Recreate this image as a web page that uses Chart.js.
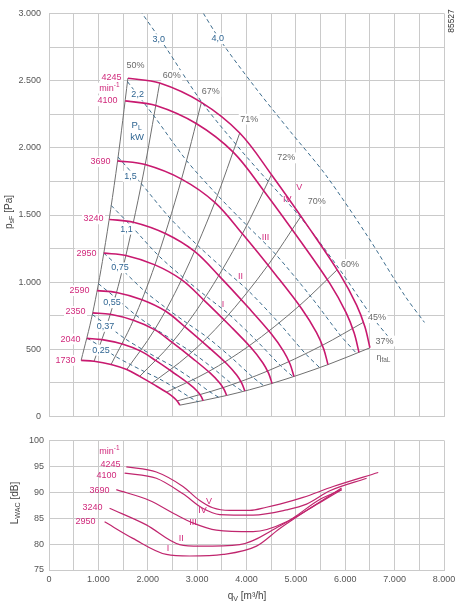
<!DOCTYPE html>
<html>
<head>
<meta charset="utf-8">
<script src="https://cdn.jsdelivr.net/npm/chart.js@4.4.0/dist/chart.umd.min.js"></script>
<style>
  body { margin: 0; background: #fff; }
  #wrap { position: relative; width: 465px; height: 606px; }
  canvas { position: absolute; left: 0; }
</style>
</head>
<body>
<div id="wrap">
  <canvas id="kennlinie" width="465" height="430" style="top:0"></canvas>
  <canvas id="schall" width="465" height="176" style="top:430px"></canvas>
</div>
<script>
// tick labels
const qTicks = ['0', '1.000', '2.000', '3.000', '4.000', '5.000', '6.000', '7.000', '8.000'];
const pTicks = ['0', '500', '1.000', '1.500', '2.000', '2.500', '3.000'];
const lwTicks = ['75', '80', '85', '90', '95', '100'];

// speed curves [qV m3/h, psF Pa]
const speeds = ['4245', '4100', '3690', '3240', '2950', '2590', '2350', '2040', '1730'];
const n4245 = [[1598,2518],[2241,2482],[3087,2338],[3863,2110],[4506,1800],[5283,1395],[5891,1060],[6230,830],[6398,668],[6500,512]];
const n4100 = [[1543,2349],[2164,2315],[2981,2181],[3731,1968],[4352,1679],[5102,1301],[5690,989],[6017,774],[6179,623],[6278,478]];
const n3690 = [[1389,1903],[1948,1875],[2684,1767],[3358,1594],[3917,1360],[4593,1054],[5121,801],[5416,627],[5562,505],[5650,387]];
const n3240 = [[1220,1467],[1711,1446],[2356,1362],[2949,1229],[3439,1049],[4033,813],[4497,618],[4755,484],[4884,389],[4961,298]];
const n2950 = [[1110,1216],[1557,1199],[2145,1129],[2684,1019],[3131,869],[3671,674],[4094,512],[4329,401],[4446,323],[4517,247]];
const n2590 = [[975,937],[1367,924],[1883,870],[2357,786],[2749,670],[3223,519],[3594,395],[3801,309],[3903,249],[3966,191]];
const n2350 = [[885,772],[1241,761],[1709,717],[2139,647],[2495,552],[2925,428],[3261,325],[3449,254],[3542,205],[3598,157]];
const n2040 = [[768,582],[1077,573],[1484,540],[1857,487],[2166,416],[2539,322],[2831,245],[2994,192],[3075,154],[3124,118]];
const n1730 = [[651,418],[913,412],[1258,388],[1574,350],[1836,299],[2153,232],[2401,176],[2539,138],[2607,111],[2649,85]];

// efficiency lines eta_faL
const effNames = ['50%', '60%', '67%', '71%', '72%', '70%', '60%', '45%', '37%'];
const eta50 = [[651,418],[885,772],[1110,1216],[1389,1903],[1598,2518]];
const eta60a = [[913,412],[1241,761],[1557,1199],[1948,1875],[2241,2482]];
const eta67 = [[1258,388],[1709,717],[2145,1129],[2684,1767],[3087,2338]];
const eta71 = [[1574,350],[2139,647],[2684,1019],[3358,1594],[3863,2110]];
const eta72 = [[1836,299],[2495,552],[3131,869],[3917,1360],[4506,1800]];
const eta70 = [[2079,247],[2824,457],[3545,720],[4434,1126],[5101,1490]];
const eta60b = [[2376,181],[3227,334],[4051,526],[5068,824],[5830,1090]];
const eta45 = [[2592,116],[3521,215],[4420,338],[5529,529],[6360,700]];
const eta37 = [[2649,85],[3598,157],[4517,247],[5650,387],[6500,512]];

// power lines P_L kW
const powerNames = ['0,25', '0,37', '0,55', '0,75', '1,1', '1,5', '2,2', '3,0', '4,0'];
const pl025 = [[770,585],[1030,525],[1350,447],[1653,387],[1937,334],[2224,283],[2563,211],[2860,142],[3017,110]];
const pl037 = [[877,759],[1174,681],[1538,580],[1884,502],[2207,434],[2535,368],[2921,274],[3259,184],[3439,143]];
const pl055 = [[1001,989],[1340,887],[1755,756],[2150,654],[2519,566],[2892,479],[3334,356],[3719,239],[3924,187]];
const pl075 = [[1111,1216],[1486,1091],[1947,930],[2385,804],[2794,696],[3208,589],[3697,438],[4125,294],[4352,229]];
const pl11 = [[1262,1570],[1688,1409],[2212,1200],[2709,1038],[3174,898],[3645,761],[4200,566],[4687,380],[4945,296]];
const pl15 = [[1399,1931],[1872,1732],[2452,1476],[3004,1276],[3520,1104],[4041,935],[4658,696],[5197,467],[5483,364]];
const pl22 = [[1590,2492],[2127,2236],[2786,1905],[3413,1647],[3999,1426],[4591,1207],[5292,898],[5905,603],[6230,470]];
const pl30 = [[1763,3064],[2359,2750],[3090,2342],[3785,2026],[4434,1753],[5091,1484],[5868,1104],[6547,742],[6908,578]];
const pl40 = [[1940,3712],[2596,3331],[3401,2838],[4166,2454],[4881,2124],[5604,1798],[6459,1338],[7207,899],[7604,701]];

// sound power level L_WAC dB
const soundNames = ['V', 'IV', 'III', 'II', 'I'];
const lw4245 = [[1566,94.9],[2174,93.9],[2713,91.1],[3052,88.4],[3316,87.0],[3661,86.5],[4067,86.5],[4405,87.1],[4675,87.7],[5147,89.0],[5755,91.1],[6668,93.8]];
const lw4100 = [[1531,93.7],[2174,92.7],[2713,89.7],[3113,86.9],[3458,85.7],[4133,85.6],[4810,86.6],[5216,87.7],[5689,90.3],[6433,92.7]];
const lw3690 = [[1363,90.5],[2038,88.4],[2545,85.8],[2910,84.1],[3391,82.7],[4133,82.4],[4810,84.3],[5483,88.6],[5926,90.5]];
const lw3240 = [[1227,86.9],[1971,83.7],[2647,79.9],[3052,79.6],[3863,79.9],[4675,83.5],[5483,88.0],[5926,90.5]];
const lw2950 = [[1126,84.3],[1699,81.1],[2377,78.0],[2849,77.7],[3525,78.0],[4202,79.6],[4675,83.0],[5926,90.8]];

const FONT = 'Arial, "Liberation Sans", sans-serif';
const gridColor = '#cacaca';
const magenta = '#c8196f';
const magentaText = '#d02a7c';
const grayLine = '#707070';
const blueDash = '#3b6b8c';
const blueText = '#2f6592';
const grayText = '#6a6a6a';

function pts(arr) {
  return arr.map(d => ({ x: d[0], y: d[1] }));
}

function line(arr, color, width, dash, tension) {
  const ds = {
    data: pts(arr),
    showLine: true,
    borderColor: color,
    borderWidth: width,
    borderDash: dash || [],
    pointRadius: 0,
    fill: false
  };
  if (tension) ds.tension = tension;
  else ds.cubicInterpolationMode = 'monotone';
  return ds;
}

function richWidth(ctx, parts, size) {
  let w = 0;
  parts.forEach(p => {
    ctx.font = (p[1] ? size * 0.72 : size) + 'px ' + FONT;
    w += ctx.measureText(p[0]).width;
  });
  return w;
}

function drawRich(ctx, parts, x, y, size, align, color, bg) {
  const w = richWidth(ctx, parts, size);
  let x0 = align === 'right' ? x - w : align === 'center' ? x - w / 2 : x;
  if (bg) {
    ctx.fillStyle = '#fff';
    ctx.fillRect(x0 - 1.5, y - size * 0.6, w + 3, size * 1.2);
  }
  ctx.fillStyle = color;
  ctx.textBaseline = 'middle';
  ctx.textAlign = 'left';
  parts.forEach(p => {
    const fs = p[1] ? size * 0.72 : size;
    ctx.font = fs + 'px ' + FONT;
    const dy = p[1] === 1 ? size * 0.32 : p[1] === 2 ? -size * 0.35 : 0;
    ctx.fillText(p[0], x0, y + dy);
    x0 += ctx.measureText(p[0]).width;
  });
}

function drawRotated(ctx, parts, x, y, size, color, angle) {
  ctx.save();
  ctx.translate(x, y);
  ctx.rotate(angle);
  drawRich(ctx, parts, 0, 0, size, 'center', color, false);
  ctx.restore();
}

// label anchors in data units [q, value]
const effLabelAt = [[1754,2610],[2484,2538],[3275,2419],[4056,2213],[4806,1925],[5425,1604],[6094,1132],[6642,736],[6794,562]];
const powerLabelAt = [[1055,494],[1146,671],[1278,847],[1440,1107],[1572,1395],[1653,1788],[1795,2394],[2221,2805],[3417,2812]];
const speedLabelAt = [[1470,2524],[1389,2350],[1247,1896],[1105,1471],[963,1211],[821,937],[740,782],[639,577],[537,418]];
const romanTopAt = [[5066,1702],[4823,1617],[4385,1336],[3878,1045],[3525,836]];
const soundSpeedAt = [[1450,95.4],[1369,93.2],[1227,90.3],[1085,87.0],[943,84.3]];
const romanBotAt = [[3241,88.3],[3107,86.5],[2916,84.1],[2681,81.0],[2409,79.2]];

const topLabels = {
  id: 'topLabels',
  afterDatasetsDraw(chart) {
    const ctx = chart.ctx, xs = chart.scales.x, ys = chart.scales.y;
    const X = v => xs.getPixelForValue(v), Y = v => ys.getPixelForValue(v);
    effNames.forEach((t, i) => drawRich(ctx, [[t, 0]], X(effLabelAt[i][0]), Y(effLabelAt[i][1]), 9, 'center', grayText, true));
    drawRich(ctx, [['η', 0], ['faL', 1]], X(6774), Y(443), 9, 'center', grayText, true);
    powerNames.forEach((t, i) => drawRich(ctx, [[t, 0]], X(powerLabelAt[i][0]), Y(powerLabelAt[i][1]), 9, 'center', blueText, true));
    drawRich(ctx, [['P', 0], ['L', 1]], X(1775), Y(2170), 9.5, 'center', blueText, true);
    drawRich(ctx, [['kW', 0]], X(1785), Y(2077), 9.5, 'center', blueText, true);
    speeds.forEach((t, i) => drawRich(ctx, [[t, 0]], X(speedLabelAt[i][0]), Y(speedLabelAt[i][1]), 9, 'right', magentaText, true));
    drawRich(ctx, [['min', 0], ['-1', 2]], X(1430), Y(2444), 9, 'right', magentaText, true);
    soundNames.forEach((t, i) => drawRich(ctx, [[t, 0]], X(romanTopAt[i][0]), Y(romanTopAt[i][1]), 9, 'center', magentaText, false));
    drawRotated(ctx, [['p', 0], ['sF', 1], [' [Pa]', 0]], 9, 212, 10, '#444', -Math.PI / 2);
    drawRotated(ctx, [['85527', 0]], 452, 21, 8.5, '#333', -Math.PI / 2);
  }
};

const botLabels = {
  id: 'botLabels',
  afterDatasetsDraw(chart) {
    const ctx = chart.ctx, xs = chart.scales.x, ys = chart.scales.y;
    const X = v => xs.getPixelForValue(v), Y = v => ys.getPixelForValue(v);
    drawRich(ctx, [['min', 0], ['-1', 2]], X(1430), Y(97.9), 9, 'right', magentaText, false);
    speeds.slice(0, 5).forEach((t, i) => drawRich(ctx, [[t, 0]], X(soundSpeedAt[i][0]), Y(soundSpeedAt[i][1]), 9, 'right', magentaText, false));
    soundNames.forEach((t, i) => drawRich(ctx, [[t, 0]], X(romanBotAt[i][0]), Y(romanBotAt[i][1]), 9, 'center', magentaText, false));
    drawRotated(ctx, [['L', 0], ['WAC', 1], [' [dB]', 0]], 15, 73, 10, '#444', -Math.PI / 2);
    drawRich(ctx, [['q', 0], ['V', 1], [' [m³/h]', 0]], 247, 166, 10, 'center', '#444', false);
  }
};

const speedCurves = [n4245, n4100, n3690, n3240, n2950, n2590, n2350, n2040, n1730];
const effLines = [eta50, eta60a, eta67, eta71, eta72, eta70, eta60b, eta45, eta37];
const powerLines = [pl025, pl037, pl055, pl075, pl11, pl15, pl22, pl30, pl40];
const soundCurves = [lw4245, lw4100, lw3690, lw3240, lw2950];

const topSets = []
  .concat(speedCurves.map(c => line(c, magenta, 1.6, null, 0.35)))
  .concat(powerLines.map(c => line(c, blueDash, 1, [4, 3], 0.3)))
  .concat(effLines.map(c => line(c, grayLine, 1)));

function baseScales(yMin, yMax, yStep, yLabels, yLabelStep, showX, xHeight, yPad) {
  return {
    x: {
      type: 'linear', min: 0, max: 8000,
      grid: { color: gridColor, drawTicks: false },
      border: { color: gridColor },
      ticks: {
        display: showX, stepSize: 500, autoSkip: false, maxRotation: 0, padding: 4,
        color: '#555', font: { family: FONT, size: 9 },
        callback: v => (v % 1000 === 0 ? qTicks[v / 1000] : '')
      },
      afterFit: s => { s.height = xHeight; }
    },
    y: {
      type: 'linear', min: yMin, max: yMax,
      grid: { color: gridColor, drawTicks: false },
      border: { color: gridColor },
      ticks: {
        stepSize: yStep, autoSkip: false, padding: yPad,
        color: '#555', font: { family: FONT, size: 9 },
        callback: v => ((v - yMin) % yLabelStep === 0 ? yLabels[(v - yMin) / yLabelStep] : '')
      },
      afterFit: s => { s.width = 49; }
    }
  };
}

new Chart(document.getElementById('kennlinie'), {
  type: 'scatter',
  data: { datasets: topSets },
  options: {
    responsive: false,
    animation: false,
    layout: { padding: { top: 5, right: 21, left: 0, bottom: 0 } },
    plugins: { legend: { display: false }, tooltip: { enabled: false } },
    scales: baseScales(0, 3000, 250, pTicks, 500, false, 9, 8)
  },
  plugins: [topLabels]
});

new Chart(document.getElementById('schall'), {
  type: 'scatter',
  data: { datasets: soundCurves.map(c => line(c, '#c0266e', 1.2)) },
  options: {
    responsive: false,
    animation: false,
    layout: { padding: { top: 6, right: 21, left: 0, bottom: 0 } },
    plugins: { legend: { display: false }, tooltip: { enabled: false } },
    scales: baseScales(75, 100, 5, lwTicks, 5, true, 36, 5)
  },
  plugins: [botLabels]
});
</script>
</body>
</html>
